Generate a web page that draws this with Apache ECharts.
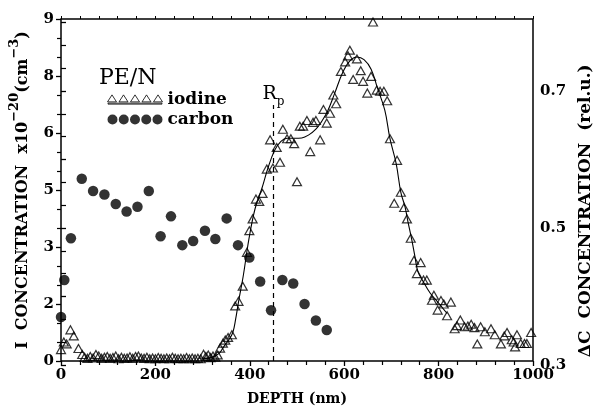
<!DOCTYPE html>
<html>
<head>
<meta charset="utf-8">
<script src="https://cdn.jsdelivr.net/npm/echarts@6/dist/echarts.min.js"></script>
<style>
html, body { margin: 0; padding: 0; background: #fff; }
#chart { width: 603px; height: 411px; }
</style>
</head>
<body>
<div id="chart"></div>
<script>
// iodine profile, depth (nm) vs concentration (x10^20 cm^-3)
const iodinePoints = [
  [0, 0.3], [6, 0.5], [12, 0.45], [20, 0.82], [27, 0.66], [37, 0.33], [45, 0.17],
  [50, 0.1], [56, 0.07], [62, 0.12], [68, 0.08], [74, 0.17], [80, 0.13], [86, 0.07],
  [92, 0.1], [98, 0.12], [104, 0.07], [110, 0.09], [116, 0.13], [122, 0.06], [128, 0.1],
  [134, 0.07], [140, 0.08], [146, 0.11], [152, 0.07], [158, 0.12], [164, 0.13], [170, 0.08],
  [176, 0.07], [182, 0.1], [188, 0.06], [194, 0.08], [200, 0.06], [206, 0.09], [212, 0.07],
  [218, 0.06], [224, 0.08], [230, 0.06], [236, 0.1], [242, 0.07], [248, 0.06], [254, 0.07],
  [260, 0.06], [266, 0.09], [272, 0.06], [278, 0.08], [284, 0.06], [290, 0.07], [296, 0.06],
  [302, 0.18], [307, 0.12], [312, 0.16], [317, 0.09], [322, 0.13], [327, 0.1], [332, 0.16],
  [337, 0.34], [343, 0.47], [348, 0.55], [354, 0.62], [362, 0.69], [369, 1.45], [376, 1.57],
  [385, 1.97], [394, 2.86], [399, 3.43], [406, 3.74], [413, 4.26], [420, 4.2], [427, 4.41],
  [436, 5.05], [443, 5.82], [449, 5.08], [457, 5.62], [464, 5.23], [470, 6.1], [479, 5.85],
  [487, 5.85], [494, 5.72], [500, 4.72], [506, 6.18], [513, 6.18], [521, 6.33], [528, 5.51],
  [534, 6.28], [540, 6.33], [549, 5.82], [556, 6.62], [563, 6.26], [570, 6.52], [577, 7.0],
  [583, 6.77], [593, 7.62], [602, 7.87], [608, 8.03], [612, 8.18], [619, 7.41], [627, 7.95],
  [635, 7.64], [640, 7.36], [649, 7.05], [657, 7.49], [661, 8.92], [669, 7.13], [676, 7.1],
  [684, 7.1], [691, 6.85], [697, 5.85], [706, 4.15], [712, 5.28], [720, 4.44], [727, 4.04],
  [733, 3.74], [741, 3.23], [748, 2.65], [754, 2.3], [762, 2.59], [768, 2.13], [775, 2.13],
  [786, 1.6], [790, 1.73], [798, 1.34], [805, 1.59], [811, 1.5], [818, 1.19], [826, 1.55],
  [834, 0.85], [839, 0.93], [846, 1.08], [855, 0.9], [862, 0.92], [869, 0.97], [876, 0.88],
  [882, 0.45], [889, 0.9], [898, 0.77], [911, 0.85], [919, 0.69], [932, 0.45], [939, 0.66],
  [945, 0.75], [955, 0.56], [959, 0.5], [962, 0.37], [966, 0.69], [974, 0.46], [982, 0.46],
  [987, 0.46], [996, 0.75]
]

// fitted curve through the iodine data
const fitCurve = [
  [300, 0.05], [320, 0.1], [335, 0.2], [345, 0.38], [355, 0.55], [364, 0.75], [370, 1.1],
  [376, 1.55], [386, 2.23], [398, 3.2], [411, 4.0], [426, 4.56], [439, 5.1], [453, 5.55],
  [466, 5.78], [479, 5.86], [495, 5.86], [510, 5.87], [525, 5.95], [540, 6.1], [552, 6.3],
  [565, 6.58], [580, 7.05], [597, 7.6], [612, 7.9], [627, 8.0], [642, 7.93], [657, 7.68],
  [670, 7.2], [686, 6.6], [697, 5.85], [710, 5.2], [720, 4.44], [729, 4.05], [735, 3.67],
  [743, 3.2], [750, 2.74], [756, 2.36], [767, 2.1], [782, 1.79], [797, 1.57], [818, 1.25]
]

// carbon, depth (nm) vs delta C concentration (rel.u.)
const carbonPoints = [
  [0, 0.370], [7, 0.424], [21, 0.485], [44, 0.572], [68, 0.554], [92, 0.549], [116, 0.535],
  [139, 0.524], [162, 0.531], [186, 0.554], [211, 0.488], [233, 0.517], [257, 0.475],
  [280, 0.481], [305, 0.496], [327, 0.484], [351, 0.514], [375, 0.475], [399, 0.457],
  [422, 0.422], [445, 0.380], [469, 0.424], [492, 0.419], [516, 0.389], [540, 0.365],
  [563, 0.351]
]

const rpDepth = 450
const rpTop = 6.74
const leftTickLabels = ['0', '2', '3', '5', '6', '8', '9']
const rightTickLabels = ['0.3', '0.5', '0.7']

const serif = '"DejaVu Serif", "Liberation Serif", serif'

// legend icons: a row of five open triangles with a rule under them, five dots
const tri = x => `M${x},17L${x + 9},3L${x + 18},17Z`
const dot = x => `M${x},11a10,10 0 1,0 20,0a10,10 0 1,0 -20,0Z`
const iodineIcon = 'path://' + [0, 23, 46, 69, 92].map(tri).join('') + 'M1,19.5L109,19.5L109,21.5L1,21.5Z'
const carbonIcon = 'path://' + [0, 22.5, 45, 67.5, 90].map(dot).join('')

const labelStyle = {
  fontFamily: serif, fontWeight: 'bold', fontSize: 15, color: '#000', margin: 7
}
const tickStyle = { show: true, inside: false, length: 5, lineStyle: { color: '#000', width: 1.3 } }
const minorStyle = { show: true, length: 4, lineStyle: { color: '#000', width: 1.2 } }

const chart = echarts.init(document.getElementById('chart'))

chart.setOption({
  animation: false,
  backgroundColor: '#fff',
  title: {
    text: 'PE/N',
    left: 94,
    top: 62,
    textStyle: { fontFamily: serif, fontWeight: 'normal', fontSize: 22, color: '#000' }
  },
  legend: {
    orient: 'vertical',
    left: 102,
    top: 86,
    itemWidth: 55,
    itemHeight: 11,
    itemGap: 3,
    selectedMode: false,
    textStyle: { fontFamily: serif, fontWeight: 'bold', fontSize: 17, color: '#000' },
    data: [
      { name: 'iodine', icon: iodineIcon, itemStyle: { color: 'rgba(0,0,0,0)', borderColor: '#000', borderWidth: 1 } },
      { name: 'carbon', icon: carbonIcon, itemStyle: { color: '#000' } }
    ]
  },
  grid: [
    { left: 61, right: 70, top: 19, bottom: 41, show: true, borderColor: '#000', borderWidth: 1.5 },
    { left: 61, right: 70, top: 22.5, bottom: 46 }
  ],
  xAxis: [{
    gridIndex: 0,
    type: 'value',
    min: 0,
    max: 1000,
    interval: 200,
    name: 'DEPTH (nm)',
    nameLocation: 'middle',
    nameGap: 31,
    nameTextStyle: { fontFamily: serif, fontWeight: 'bold', fontSize: 14, color: '#000' },
    axisLine: { show: false },
    axisTick: tickStyle,
    minorTick: Object.assign({ splitNumber: 5 }, minorStyle),
    axisLabel: Object.assign({ formatter: v => String(v) }, labelStyle),
    splitLine: { show: false }
  }, {
    gridIndex: 0,
    type: 'value',
    position: 'top',
    min: 0,
    max: 1000,
    interval: 200,
    axisLine: { show: false },
    axisTick: { show: true, length: 3, lineStyle: { color: '#000', width: 1 } },
    minorTick: { show: true, splitNumber: 5, length: 3, lineStyle: { color: '#000', width: 1 } },
    axisLabel: { show: false },
    splitLine: { show: false }
  }, {
    gridIndex: 1,
    type: 'value',
    min: 0,
    max: 1000,
    show: false
  }],
  yAxis: [{
    gridIndex: 0,
    type: 'value',
    min: 0,
    max: 9,
    interval: 1.5,
    name: '{b|I  CONCENTRATION  x10}{s|\u221220}{b|(cm}{s|\u22123}{b|)}',
    nameLocation: 'middle',
    nameGap: 30,
    nameTextStyle: {
      color: '#000',
      rich: {
        b: { fontFamily: serif, fontWeight: 'bold', fontSize: 16, color: '#000', padding: [7, 0, 0, 0], verticalAlign: 'bottom' },
        s: { fontFamily: serif, fontWeight: 'bold', fontSize: 13, color: '#000', verticalAlign: 'top' }
      }
    },
    axisLine: { show: false },
    axisTick: tickStyle,
    minorTick: Object.assign({ splitNumber: 3 }, minorStyle),
    axisLabel: Object.assign({
      formatter: v => leftTickLabels[Math.round(v / 1.5)]
    }, labelStyle),
    splitLine: { show: false }
  }, {
    gridIndex: 1,
    type: 'value',
    position: 'right',
    min: 0.3,
    max: 0.8,
    interval: 0.1,
    name: '\u0394C  CONCENTRATION  (rel.u.)',
    nameLocation: 'middle',
    nameGap: 27,
    nameTextStyle: { fontFamily: serif, fontWeight: 'bold', fontSize: 17, color: '#000', padding: [0, 34, 0, 0] },
    axisLine: { show: false },
    axisTick: { show: true, length: 5, lineStyle: { color: '#000', width: 1.3 } },
    minorTick: Object.assign({ splitNumber: 3 }, minorStyle, { length: 5 }),
    axisLabel: Object.assign({
      formatter: v => {
        const s = v.toFixed(1)
        return rightTickLabels.indexOf(s) >= 0 ? s : ''
      }
    }, labelStyle),
    splitLine: { show: false }
  }],
  series: [{
    name: 'fit',
    type: 'line',
    xAxisIndex: 0,
    yAxisIndex: 0,
    data: fitCurve,
    smooth: 0.4,
    showSymbol: false,
    silent: true,
    lineStyle: { color: '#000', width: 1.1 }
  }, {
    name: 'iodine',
    type: 'scatter',
    xAxisIndex: 0,
    yAxisIndex: 0,
    data: iodinePoints,
    symbol: 'triangle',
    symbolSize: [9, 8],
    itemStyle: { color: 'rgba(0,0,0,0)', borderColor: '#000', borderWidth: 1.2 },
    markLine: {
      silent: true,
      symbol: 'none',
      lineStyle: { color: '#000', type: [5, 4], width: 1.2 },
      label: {
        show: true,
        position: 'end',
        distance: -3,
        formatter: '{r|R}{p|p}',
        rich: {
          r: { fontFamily: serif, fontSize: 19, color: '#000', padding: [0, 0, 4, 0], verticalAlign: 'top' },
          p: { fontFamily: serif, fontSize: 12, color: '#000', verticalAlign: 'bottom' }
        }
      },
      data: [[{ coord: [rpDepth, 0] }, { coord: [rpDepth, rpTop] }]]
    }
  }, {
    name: 'carbon',
    type: 'scatter',
    xAxisIndex: 2,
    yAxisIndex: 1,
    data: carbonPoints,
    symbol: 'circle',
    symbolSize: 10.5,
    itemStyle: { color: '#000' }
  }]
})
</script>
</body>
</html>
